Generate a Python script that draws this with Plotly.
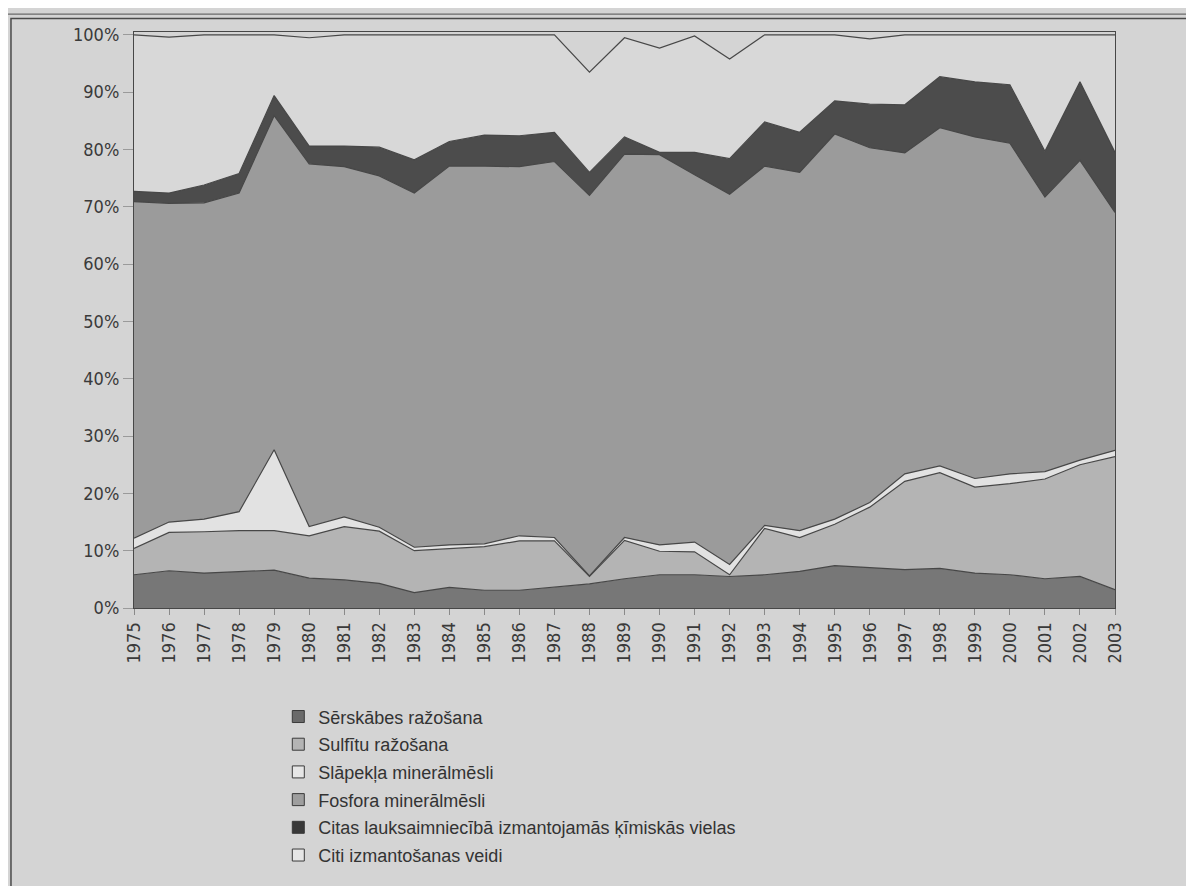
import plotly.graph_objects as go

years = list(range(1975, 2004))

names = [
    "Sērskābes ražošana",
    "Sulfītu ražošana",
    "Slāpekļa minerālmēsli",
    "Fosfora minerālmēsli",
    "Citas lauksaimniecībā izmantojamās ķīmiskās vielas",
    "Citi izmantošanas veidi",
]

serskabes = [5.8, 6.5, 6.1, 6.3, 6.6, 5.2, 4.9, 4.3, 2.7, 3.6, 3.1, 3.1, 3.6, 4.2,
             5.1, 5.8, 5.8, 5.5, 5.8, 6.4, 7.4, 7.0, 6.7, 6.9, 6.1, 5.8, 5.1, 5.5, 3.2]
sulfitu = [4.6, 6.7, 7.2, 7.2, 6.9, 7.4, 9.3, 9.1, 7.3, 6.7, 7.6, 8.6, 8.1, 1.3,
           6.7, 4.1, 4.0, 0.3, 8.1, 5.9, 7.2, 10.6, 15.4, 16.7, 15.0, 15.9, 17.4, 19.5, 23.2]
slapekla = [1.8, 1.8, 2.2, 3.3, 14.1, 1.6, 1.7, 0.7, 0.6, 0.7, 0.5, 0.9, 0.6, 0.1,
            0.5, 1.1, 1.7, 1.8, 0.5, 1.2, 0.9, 0.8, 1.3, 1.2, 1.5, 1.7, 1.3, 0.8, 1.1]
fosfora = [58.7, 55.6, 55.2, 55.6, 58.3, 63.3, 61.1, 61.3, 61.8, 66.1, 65.9, 64.4, 65.6, 66.4,
           66.9, 68.1, 64.1, 64.6, 62.7, 62.5, 67.2, 61.9, 56.0, 59.0, 59.6, 57.7, 47.9, 52.3, 41.5]
citas_lauks = [1.8, 1.8, 3.1, 3.4, 3.5, 3.1, 3.6, 5.0, 5.8, 4.3, 5.4, 5.4, 5.1, 4.0,
               3.0, 0.4, 3.9, 6.2, 7.7, 7.0, 5.8, 7.6, 8.4, 8.9, 9.6, 10.2, 8.0, 13.7, 10.5]
citi = [27.3, 27.2, 26.2, 24.2, 10.6, 18.9, 19.4, 19.6, 21.8, 18.6, 17.5, 17.6, 17.0, 17.5,
        17.3, 18.2, 20.3, 17.4, 15.2, 17.0, 11.5, 11.4, 12.2, 7.3, 8.2, 8.7, 20.3, 8.2, 20.5]

series = [serskabes, sulfitu, slapekla, fosfora, citas_lauks, citi]
colors = ["#777777", "#b4b4b4", "#e2e2e2", "#9b9b9b", "#4c4c4c", "#d8d8d8"]
legend_colors = ["#6a6a6a", "#b4b4b4", "#e6e6e6", "#9e9e9e", "#383838", "#e6e6e6"]

y_ticks = list(range(0, 101, 10))
y_tick_labels = [f"{v}%" for v in y_ticks]

BG = "#d4d4d4"
LINE = "#474747"
TICKFONT = dict(family="Liberation Sans Narrow, DejaVu Sans Condensed, Arial Narrow, Liberation Sans, sans-serif",
                size=18, color="#3a3a3a")

fig = go.Figure()
for name, vals, col in zip(names, series, colors):
    fig.add_trace(go.Scatter(
        x=years, y=vals, name=name, mode="lines", stackgroup="one",
        line=dict(color=LINE, width=1.2, shape="linear"),
        fillcolor=col, showlegend=False, hoverinfo="x+y+name",
    ))

for i, (name, col) in enumerate(zip(names, legend_colors)):
    fig.add_trace(go.Bar(
        x=[None], y=[None], name=name, legendgroup=f"g{i}",
        marker=dict(color=col, line=dict(color="#3a3a3a", width=1)),
        showlegend=True,
    ))

fig.update_layout(
    width=1194, height=886,
    margin=dict(l=126, r=87, t=24, b=286),
    paper_bgcolor=BG, plot_bgcolor=BG,
    showlegend=True,
    legend=dict(
        x=0.1471, y=-0.1568, xanchor="left", yanchor="top",
        bgcolor="rgba(0,0,0,0)", traceorder="grouped", tracegroupgap=1.3,
        font=dict(family="Liberation Sans, Arial, sans-serif", size=18, color="#333333"),
    ),
    xaxis=dict(
        range=[1975, 2003], tickmode="array", tickvals=years,
        ticktext=[str(y) for y in years], tickangle=-90,
        ticks="outside", ticklen=6, tickcolor="#8a8a8a",
        showline=True, linecolor=LINE, linewidth=1.2, mirror=True,
        showgrid=False, zeroline=False, tickfont=TICKFONT,
    ),
    yaxis=dict(
        range=[0, 100.5], tickmode="array", tickvals=y_ticks, ticktext=y_tick_labels,
        ticks="outside", ticklen=10, tickcolor="#9a9a9a",
        showline=True, linecolor=LINE, linewidth=1.2, mirror=True,
        showgrid=False, zeroline=False, tickfont=TICKFONT,
    ),
    shapes=[
        dict(type="rect", xref="paper", yref="paper",
             x0=-0.1254, x1=1.2, y0=-0.6, y1=1.0235,
             line=dict(color="#4a4a4a", width=1.5), layer="below"),
        dict(type="line", xref="paper", yref="paper",
             x0=-0.2, x1=1.2, y0=1.031, y1=1.031,
             line=dict(color="#6a6a6a", width=1.2), layer="below"),
    ],
)

fig.write_html("out.html")
